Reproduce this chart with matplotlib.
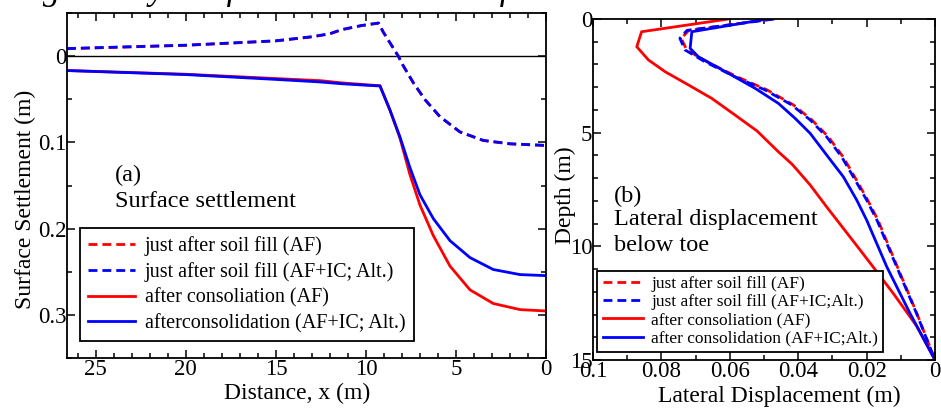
import numpy as np
import matplotlib
matplotlib.use("Agg")
import matplotlib.pyplot as plt
from matplotlib.ticker import MultipleLocator

plt.rcParams['font.family'] = ['Liberation Serif', 'DejaVu Serif']

# (a) surface settlement, distance from toe (m) vs settlement (m)
dist_fill = [26.6, 20, 15, 13, 12, 11.36, 10.25, 9.3, 9.04, 8.2, 7.93, 7.37, 6.72, 5.89,
             4.78, 3.48, 2.0, 0]
sett_fill_af = [-0.0086, -0.0125, -0.0176, -0.0223, -0.0258, -0.0305, -0.0353, -0.0382,
                -0.028, 0.0002, 0.0112, 0.0309, 0.0506, 0.0703, 0.088, 0.0979, 0.1018, 0.1037]
sett_fill_ic = [-0.0088, -0.0127, -0.0178, -0.0225, -0.026, -0.0307, -0.0355, -0.0384,
                -0.028, 0.0, 0.011, 0.0307, 0.0504, 0.0701, 0.0878, 0.0977, 0.1016, 0.1035]

dist_cons = [26.6, 20, 15, 12.5, 11.36, 9.78, 9.22, 8.67, 8.11, 7.56, 7.0, 6.26, 5.33,
             4.22, 2.93, 1.44, 0]
sett_cons_ic = [0.0167, 0.0214, 0.027, 0.030, 0.032, 0.034, 0.0346, 0.0622, 0.0937, 0.129,
                0.1607, 0.1883, 0.214, 0.2336, 0.2474, 0.2533, 0.2545]
sett_cons_af = [0.0167, 0.021, 0.026, 0.0285, 0.031, 0.0335, 0.0343, 0.0625, 0.095, 0.1371,
                0.1726, 0.208, 0.2435, 0.271, 0.2868, 0.2939, 0.2955]

# (b) lateral displacement below toe, depth (m) vs displacement (m)
depth_cons_af = [0, 0.56, 1.22, 1.8, 2.32, 2.9, 3.49, 4.22, 4.93, 5.84, 6.4, 7.3, 8.26,
                 9.21, 10.16, 11.12, 12.07, 13.5, 15]
disp_cons_af = [0.0604, 0.0858, 0.0872, 0.0838, 0.0789, 0.0721, 0.0653, 0.0585, 0.052,
                0.0458, 0.0417, 0.0365, 0.0317, 0.0268, 0.0219, 0.017, 0.0122, 0.0054, 0.0]
depth_cons_ic = [0, 0.56, 1.29, 1.66, 2.39, 3.05, 3.71, 4.37, 5.03, 5.98, 6.94, 7.96,
                 8.84, 10.9, 12.95, 15]
disp_cons_ic = [0.049, 0.0711, 0.0716, 0.0692, 0.0604, 0.0526, 0.0458, 0.0409, 0.0365,
                0.0317, 0.0268, 0.0229, 0.020, 0.0141, 0.0073, 0.0]
depth_fill = [0, 0.5, 0.85, 1.36, 1.88, 2.54, 3.12, 3.78, 4.44, 5.18, 6.06, 6.94, 7.96,
              8.84, 10.9, 12.95, 15]
disp_fill_ic = [0.047, 0.0725, 0.0746, 0.0731, 0.0673, 0.0585, 0.0497, 0.0419, 0.0365,
                0.0317, 0.0273, 0.0239, 0.020, 0.017, 0.0112, 0.0054, 0.0]
disp_fill_af = [0.0475, 0.072, 0.0742, 0.0726, 0.0667, 0.0579, 0.0491, 0.0414, 0.036,
                0.0312, 0.0269, 0.0235, 0.0197, 0.0167, 0.011, 0.0053, 0.0]

labels_a = ['just after soil fill (AF)', 'just after soil fill (AF+IC; Alt.)',
            'after consoliation (AF)', 'afterconsolidation (AF+IC; Alt.)']
labels_b = ['just after soil fill (AF)', 'just after soil fill (AF+IC;Alt.)',
            'after consoliation (AF)', 'after consolidation (AF+IC;Alt.)']

W, H = 941, 409
fig = plt.figure(figsize=(W / 100, H / 100), dpi=100)

ax1 = fig.add_axes([67 / W, 1 - 358 / H, 479 / W, 345 / H])
ax2 = fig.add_axes([593 / W, 1 - 360 / H, 342 / W, 341 / H])

dash = (3.2, 1.8)
lw = 2.0

# ---- panel (a)
ax1.axhline(0, color='black', lw=1.0)
ax1.plot(dist_fill, sett_fill_af, color='red', lw=lw, dashes=dash, label=labels_a[0])
ax1.plot(dist_fill, sett_fill_ic, color='blue', lw=lw, dashes=dash, label=labels_a[1])
ax1.plot(dist_cons, sett_cons_af, color='red', lw=lw, label=labels_a[2])
ax1.plot(dist_cons, sett_cons_ic, color='blue', lw=lw, label=labels_a[3])
ax1.set_xlim(26.6, 0)
ax1.set_ylim(0.35, -0.05)
ax1.xaxis.set_minor_locator(MultipleLocator(1))
ax1.yaxis.set_minor_locator(MultipleLocator(0.05))
ax1.set_xticks([25, 20, 15, 10, 5, 0])
ax1.set_xticklabels(['25', '20', '15', '10', '5', '0'])
ax1.set_yticks([0, 0.1, 0.2, 0.3])
ax1.set_yticklabels(['0', '0.1', '0.2', '0.3'])

ax1.text(0.10, 0.53, '(a)', transform=ax1.transAxes, fontsize=17.5, va='center', ha='left')
ax1.text(0.10, 0.454, 'Surface settlement', transform=ax1.transAxes, fontsize=17.5,
         va='center', ha='left')
ax1.text(-0.087, 0.46, 'Surface Settlement (m)', transform=ax1.transAxes, fontsize=17,
         rotation=90, ha='center', va='center')
ax1.text(0.48, -0.103, 'Distance, x (m)', transform=ax1.transAxes, fontsize=17,
         ha='center', va='center')

leg1 = ax1.legend(loc='lower left', bbox_to_anchor=(0.028, 0.049), fontsize=14.5,
                  handlelength=2.3, labelspacing=0.3, borderpad=0.4, handletextpad=0.5,
                  fancybox=False, framealpha=1, edgecolor='black', borderaxespad=0)
leg1.get_frame().set_linewidth(1.3)

# ---- panel (b)
ax2.plot(disp_fill_af, depth_fill, color='red', lw=lw, dashes=dash, label=labels_b[0])
ax2.plot(disp_fill_ic, depth_fill, color='blue', lw=lw, dashes=dash, label=labels_b[1])
ax2.plot(disp_cons_af, depth_cons_af, color='red', lw=lw, label=labels_b[2])
ax2.plot(disp_cons_ic, depth_cons_ic, color='blue', lw=lw, label=labels_b[3])
ax2.set_xlim(0.1, 0)
ax2.set_ylim(15, 0)
ax2.xaxis.set_minor_locator(MultipleLocator(0.01))
ax2.yaxis.set_minor_locator(MultipleLocator(1))
ax2.set_xticks([0.1, 0.08, 0.06, 0.04, 0.02, 0])
ax2.set_xticklabels(['0.1', '0.08', '0.06', '0.04', '0.02', '0'])
ax2.set_yticks([0, 5, 10, 15])
ax2.set_yticklabels(['0', '5', '10', '15'])

ax2.text(0.06, 0.479, '(b)', transform=ax2.transAxes, fontsize=17.5, va='center', ha='left')
ax2.text(0.06, 0.411, 'Lateral displacement', transform=ax2.transAxes, fontsize=17.5,
         va='center', ha='left')
ax2.text(0.06, 0.337, 'below toe', transform=ax2.transAxes, fontsize=17.5,
         va='center', ha='left')
ax2.text(-0.082, 0.484, 'Depth (m)', transform=ax2.transAxes, fontsize=17,
         rotation=90, ha='center', va='center')
ax2.text(0.544, -0.108, 'Lateral Displacement (m)', transform=ax2.transAxes, fontsize=17,
         ha='center', va='center')

leg2 = ax2.legend(loc='lower left', bbox_to_anchor=(0.013, 0.024), fontsize=12.5,
                  handlelength=2.3, labelspacing=0.12, borderpad=0.3, handletextpad=0.5,
                  fancybox=False, framealpha=1, edgecolor='black', borderaxespad=0)
leg2.get_frame().set_linewidth(1.3)

for ax in (ax1, ax2):
    ax.tick_params(which='both', direction='in', top=True, right=True,
                   labelsize=16.5, width=1.1)
    ax.tick_params(which='major', length=6)
    ax.tick_params(which='minor', length=3.5)
    ax.tick_params(axis='y', pad=0.5)
    ax.tick_params(axis='x', pad=1)
    for s in ax.spines.values():
        s.set_linewidth(1.3)

# cropped caption line at the very top
fig.text(12 / W, 1 + 1 / H, 'Fig. 6  Lay out for the simulation of embankment.',
         fontsize=25, style='italic', ha='left', va='baseline')

fig.savefig('out.png', dpi=100)
